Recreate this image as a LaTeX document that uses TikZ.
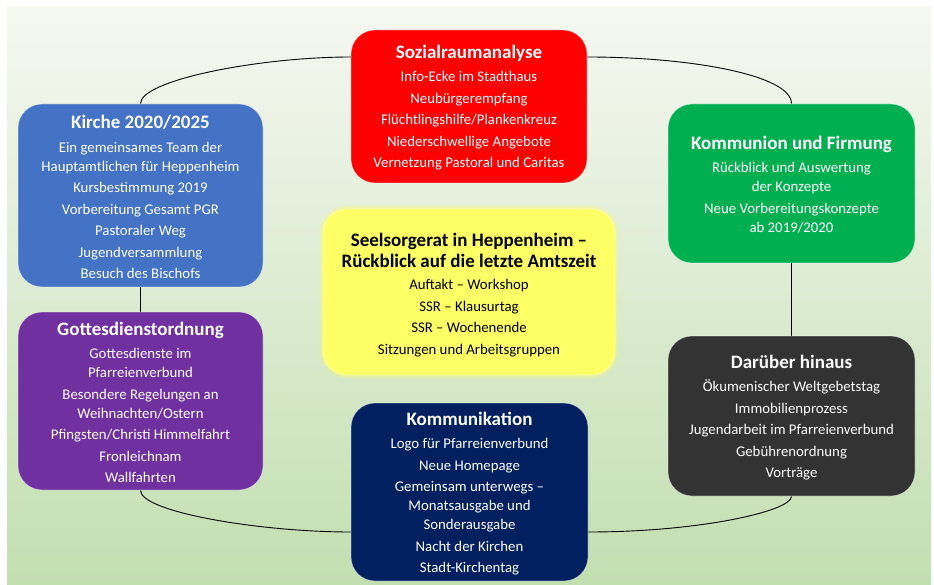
\documentclass[tikz,border=0pt]{standalone}
\usepackage{fontspec}
\setmainfont{Carlito}
\pgfdeclarelayer{bg}
\pgfsetlayers{bg,main}
\definecolor{bgtop}{RGB}{246,248,242}
\definecolor{bgbot}{RGB}{194,223,176}
\definecolor{cred}{RGB}{255,0,0}
\definecolor{cblue}{RGB}{68,114,196}
\definecolor{cgreen}{RGB}{0,176,80}
\definecolor{cpurple}{RGB}{112,48,160}
\definecolor{cyellow}{RGB}{255,255,102}
\definecolor{cdark}{RGB}{51,51,51}
\definecolor{cnavy}{RGB}{0,32,96}
\newcommand\ttl[1]{{\bfseries\fontsize{19}{19}\selectfont #1}}
\tikzset{
  box/.style={rounded corners=24pt, inner sep=0pt, draw=white, draw opacity=0.45, line width=0.8pt},
  txt/.style={align=center, inner sep=0pt, text=white, font=\fontsize{14.8}{19}\selectfont},
  ring/.style={draw=black, line width=0.9pt},
}
\begin{document}
\begin{tikzpicture}[x=1pt,y=-1pt]
\useasboundingbox (0,0) rectangle (934,585);
\begin{pgfonlayer}{bg}
\shade[top color=bgtop, bottom color=bgbot] (7,7) rectangle (931,585);
\end{pgfonlayer}

% boxes
\node[box, fill=cred, minimum width=236pt, minimum height=153pt] (red) at (469,106.5) {};
\node[box, fill=cblue, minimum width=245pt, minimum height=183pt] (kirche) at (140.5,195.5) {};
\node[box, fill=cgreen, minimum width=247pt, minimum height=159pt] (green) at (791.5,183.5) {};
\node[box, fill=cpurple, minimum width=245pt, minimum height=178pt] (purple) at (140.5,401) {};
\node[box, fill=cyellow, draw=cyellow!60!white, draw opacity=1,
  preaction={draw=cyellow, line width=9pt, draw opacity=0.12},
  preaction={draw=cyellow, line width=5pt, draw opacity=0.25},
  minimum width=292pt, minimum height=166pt] (yellow) at (469,292) {};
\node[box, fill=cdark, minimum width=247pt, minimum height=160pt] (dark) at (791.5,416) {};
\node[box, fill=cnavy, minimum width=237pt, minimum height=178pt] (navy) at (469.5,492) {};

% texts
\node[txt, yshift=-1.3pt] (red-t) at (red.center) {\ttl{Sozialraumanalyse}\\[4.5pt]
Info-Ecke im Stadthaus\\[2.5pt]
Neubürgerempfang\\[2.5pt]
Flüchtlingshilfe/Plankenkreuz\\[2.5pt]
Niederschwellige Angebote\\[2.5pt]
Vernetzung Pastoral und Caritas};

\node[txt, yshift=-1.5pt] (kirche-t) at (kirche.center) {\ttl{Kirche 2020/2025}\\[4.5pt]
Ein gemeinsames Team der\\
Hauptamtlichen für Heppenheim\\[2.5pt]
Kursbestimmung 2019\\[2.5pt]
Vorbereitung Gesamt PGR\\[2.5pt]
Pastoraler Weg\\[2.5pt]
Jugendversammlung\\[2.5pt]
Besuch des Bischofs};

\node[txt, yshift=-1.5pt] (green-t) at (green.center) {\ttl{Kommunion und Firmung}\\[4pt]
Rückblick und Auswertung\\
der Konzepte\\[3pt]
Neue Vorbereitungskonzepte\\
ab 2019/2020};

\node[txt, yshift=-1.5pt] (purple-t) at (purple.center) {\ttl{Gottesdienstordnung}\\[4.5pt]
Gottesdienste im\\
Pfarreienverbund\\[2.5pt]
Besondere Regelungen an\\
Weihnachten/Ostern\\[2.5pt]
Pfingsten/Christi Himmelfahrt\\[2.5pt]
Fronleichnam\\[2.5pt]
Wallfahrten};

\node[txt, text=black, yshift=-3pt] (yellow-t) at (yellow.center) {\ttl{Seelsorgerat in Heppenheim –}\\[2pt]
\ttl{Rückblick auf die letzte Amtszeit}\\[3pt]
Auftakt – Workshop\\[2.5pt]
SSR – Klausurtag\\[2.5pt]
SSR – Wochenende\\[2.5pt]
Sitzungen und Arbeitsgruppen};

\node[txt, yshift=-1.5pt] (dark-t) at (dark.center) {\ttl{Darüber hinaus}\\[4.5pt]
Ökumenischer Weltgebetstag\\[2.5pt]
Immobilienprozess\\[2.5pt]
Jugendarbeit im Pfarreienverbund\\[2.5pt]
Gebührenordnung\\[2.5pt]
Vorträge};

\node[txt, yshift=-1.5pt] (navy-t) at (navy.center) {\ttl{Kommunikation}\\[4.5pt]
Logo für Pfarreienverbund\\[2.5pt]
Neue Homepage\\[2.5pt]
Gemeinsam unterwegs –\\
Monatsausgabe und\\
Sonderausgabe\\[2.5pt]
Nacht der Kirchen\\[2.5pt]
Stadt-Kirchentag};

% ring connectors (behind boxes)
\begin{pgfonlayer}{bg}
\draw[ring] (kirche.north) .. controls (140.5,80) and (260,57) .. (red.west |- 0,57)
  -- (red.east |- 0,57) .. controls (690,57) and (791.5,75) .. (green.north);
\draw[ring] (green.south) -- (dark.north);
\draw[ring] (dark.south) .. controls (791.5,511) and (700,532) .. (navy.east |- 0,532)
  -- (navy.west |- 0,532) .. controls (260,532) and (140.5,512) .. (purple.south);
\draw[ring] (purple.north) -- (kirche.south);
\end{pgfonlayer}
\end{tikzpicture}
\end{document}
